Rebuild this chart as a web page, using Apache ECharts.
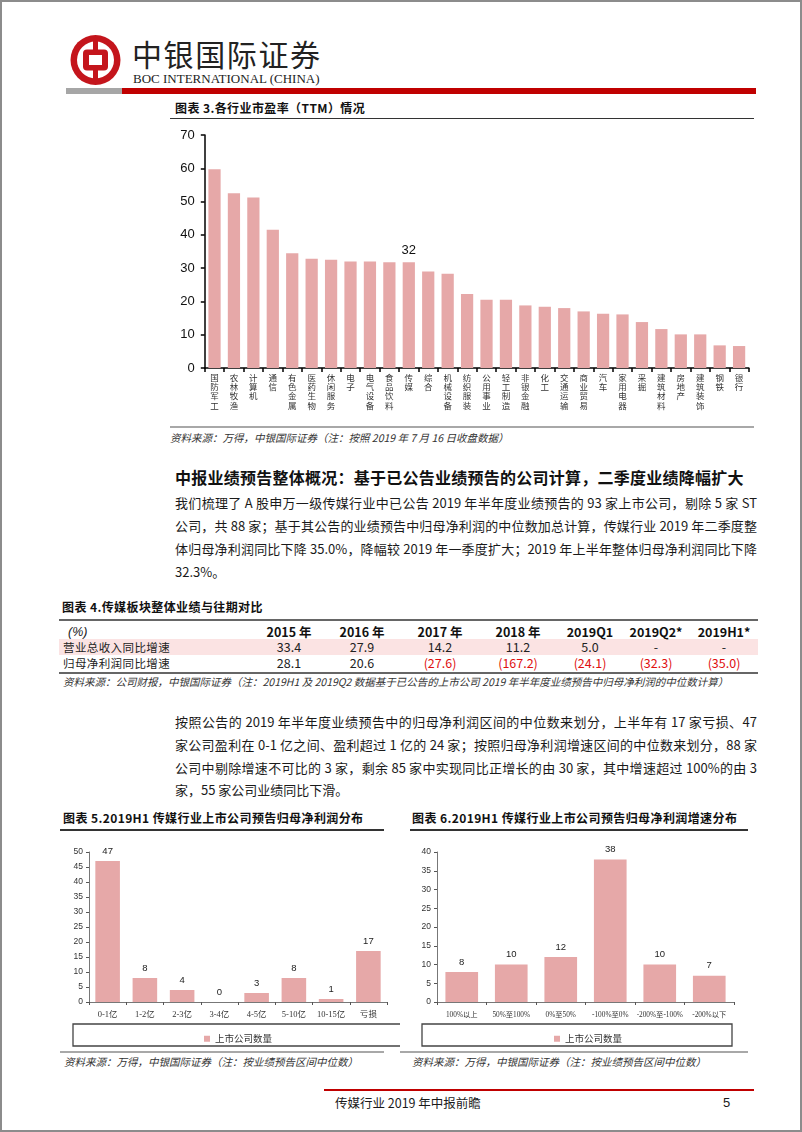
<!DOCTYPE html>
<html><head><meta charset="utf-8">
<script src="https://cdn.jsdelivr.net/npm/echarts@6/dist/echarts.min.js"></script>
<style>
html,body{margin:0;padding:0;background:#fff;}
#page{position:relative;width:802px;height:1132px;overflow:hidden;font-family:"Noto Sans CJK SC",sans-serif;color:#1a1a1a;}
#frame{position:absolute;left:0;top:0;width:798px;height:1128px;border:2px solid #8c8c8c;}
.a{position:absolute;white-space:nowrap;}
.ttl{font-size:12px;font-weight:700;line-height:16px;color:#111;letter-spacing:0.4px;}
.src{font-size:10.5px;font-style:italic;line-height:14px;color:#333;font-family:"Liberation Sans Narrow","Noto Sans CJK SC",sans-serif;}
.para{font-size:13px;line-height:18px;color:#1a1a1a;font-family:"Liberation Sans Narrow","Noto Sans CJK SC",sans-serif;width:582px;text-align:justify;text-align-last:justify;}
.line{position:absolute;}
.cell{position:absolute;width:70px;margin-left:-35px;text-align:center;font-size:12.5px;line-height:16px;font-family:"Liberation Sans Narrow","Noto Sans CJK SC",sans-serif;}
</style>
</head><body>
<div id="page">
<div id="frame"></div>

<!-- header -->
<svg class="a" style="left:68px;top:33px" width="56" height="56" viewBox="68 33 56 56">
  <circle cx="95.5" cy="60" r="25" fill="#c4151c"/>
  <circle cx="95.5" cy="60" r="18.5" fill="#fff"/>
  <rect x="93" y="38" width="5" height="44" fill="#c4151c"/>
  <rect x="83" y="49.5" width="25" height="21" rx="4" fill="#c4151c"/>
  <rect x="89" y="55" width="13" height="10" fill="#fff"/>
</svg>
<div class="a" style="left:132px;top:35px;font-size:30px;line-height:36px;letter-spacing:1.6px;color:#222;">中银国际证券</div>
<div class="a" style="left:133px;top:71px;font-size:13px;line-height:16px;font-family:'Liberation Serif',serif;color:#222;">BOC INTERNATIONAL (CHINA)</div>
<div class="line" style="left:66px;top:88px;width:56px;height:6px;background:#a6a6a6;"></div>
<div class="line" style="left:122px;top:88px;width:634px;height:6px;background:#c00000;"></div>

<!-- chart 3 -->
<div class="a ttl" style="left:175px;top:100px;">图表 3.各行业市盈率（TTM）情况</div>
<div class="line" style="left:170px;top:118px;width:584px;height:1px;background:#333;"></div>
<div id="c3" class="a" style="left:160px;top:120px;width:620px;height:305px;"></div>
<div class="line" style="left:170px;top:426px;width:584px;height:2px;background:#a8a8a8;"></div>
<div class="a src" style="left:170px;top:431px;">资料来源：万得，中银国际证券（注：按照 2019 年 7 月 16 日收盘数据）</div>

<!-- section 1 -->
<div class="a" style="left:175px;top:467px;font-size:16px;font-weight:700;line-height:20px;letter-spacing:0.25px;color:#111;">中报业绩预告整体概况：基于已公告业绩预告的公司计算，二季度业绩降幅扩大</div>
<div class="a para" style="left:175px;top:494px;">我们梳理了 A 股申万一级传媒行业中已公告 2019 年半年度业绩预告的 93 家上市公司，剔除 5 家 ST</div>
<div class="a para" style="left:175px;top:517px;">公司，共 88 家；基于其公告的业绩预告中归母净利润的中位数加总计算，传媒行业 2019 年二季度整</div>
<div class="a para" style="left:175px;top:540px;">体归母净利润同比下降 35.0%，降幅较 2019 年一季度扩大；2019 年上半年整体归母净利润同比下降</div>
<div class="a para" style="left:175px;top:563px;text-align-last:left;">32.3%。</div>

<!-- table 4 -->
<div class="a ttl" style="left:62px;top:599px;">图表 4.传媒板块整体业绩与往期对比</div>
<div class="line" style="left:59px;top:619px;width:699px;height:1.5px;background:#666;"></div>
<div class="line" style="left:59px;top:639px;width:699px;height:16px;background:#fbe3e3;"></div>
<div class="line" style="left:59px;top:672px;width:699px;height:1.5px;background:#666;"></div>
<div id="tbl"></div>
<div class="a src" style="left:63px;top:675px;">资料来源：公司财报，中银国际证券（注：2019H1 及 2019Q2 数据基于已公告的上市公司 2019 年半年度业绩预告中归母净利润的中位数计算）</div>

<!-- section 2 -->
<div class="a para" style="left:175px;top:713px;">按照公告的 2019 年半年度业绩预告中的归母净利润区间的中位数来划分，上半年有 17 家亏损、47</div>
<div class="a para" style="left:175px;top:736px;">家公司盈利在 0-1 亿之间、盈利超过 1 亿的 24 家；按照归母净利润增速区间的中位数来划分，88 家</div>
<div class="a para" style="left:175px;top:759px;">公司中剔除增速不可比的 3 家，剩余 85 家中实现同比正增长的由 30 家，其中增速超过 100%的由 3</div>
<div class="a para" style="left:175px;top:781px;text-align-last:left;">家，55 家公司业绩同比下滑。</div>

<!-- chart 5 -->
<div class="a ttl" style="left:63px;top:810px;">图表 5.2019H1 传媒行业上市公司预告归母净利润分布</div>
<div class="line" style="left:60px;top:829px;width:324px;height:1.5px;background:#333;"></div>
<div id="c5" class="a" style="left:40px;top:835px;width:360px;height:215px;"></div>
<div class="line" style="left:60px;top:1051px;width:324px;height:1.5px;background:#a8a8a8;"></div>
<div class="a src" style="left:64px;top:1055px;">资料来源：万得，中银国际证券（注：按业绩预告区间中位数）</div>

<!-- chart 6 -->
<div class="a ttl" style="left:412px;top:810px;">图表 6.2019H1 传媒行业上市公司预告归母净利润增速分布</div>
<div class="line" style="left:410px;top:829px;width:338px;height:1.5px;background:#333;"></div>
<div id="c6" class="a" style="left:400px;top:835px;width:360px;height:215px;"></div>
<div class="line" style="left:400px;top:1051px;width:348px;height:1.5px;background:#a8a8a8;"></div>
<div class="a src" style="left:412px;top:1055px;">资料来源：万得，中银国际证券（注：按业绩预告区间中位数）</div>

<!-- footer -->
<div class="line" style="left:324px;top:1089px;width:430px;height:2px;background:#c00000;"></div>
<div class="a" style="left:335px;top:1094px;font-size:12.5px;line-height:18px;font-family:'Liberation Sans Narrow','Noto Sans CJK SC',sans-serif;">传媒行业 2019 年中报前瞻</div>
<div class="a" style="left:723px;top:1094px;font-size:13px;line-height:18px;font-family:'Liberation Sans','Noto Sans CJK SC',sans-serif;">5</div>
</div>

<script>
// ---------- data ----------
const peCategories = ['国防军工','农林牧渔','计算机','通信','有色金属','医药生物','休闲服务','电子','电气设备','食品饮料','传媒','综合','机械设备','纺织服装','公用事业','轻工制造','非银金融','化工','交通运输','商业贸易','汽车','家用电器','采掘','建筑材料','房地产','建筑装饰','钢铁','银行'];
const peValues = [59.7,52.5,51.2,41.5,34.5,32.8,32.5,32.0,32.0,31.8,31.8,29.0,28.3,22.2,20.5,20.5,18.8,18.4,18.0,17.0,16.3,16.1,13.8,11.7,10.1,10.1,6.8,6.6];
const peHighlight = '传媒';

const tableHeader = ['2015 年','2016 年','2017 年','2018 年','2019Q1','2019Q2*','2019H1*'];
const tableRowNames = ['营业总收入同比增速','归母净利润同比增速'];
const revenueGrowth = ['33.4','27.9','14.2','11.2','5.0','-','-'];
const profitGrowth = ['28.1','20.6','(27.6)','(167.2)','(24.1)','(32.3)','(35.0)'];

const profitBins = ['0-1亿','1-2亿','2-3亿','3-4亿','4-5亿','5-10亿','10-15亿','亏损'];
const profitCounts = [47,8,4,0,3,8,1,17];
const growthBins = ['100%以上','50%至100%','0%至50%','-100%至0%','-200%至-100%','-200%以下'];
const growthCounts = [8,10,12,38,10,7];
const seriesName = '上市公司数量';

// ---------- table ----------
(function(){
  const colX = [289,362,440,518,590,656,724];
  const rowsY = [632,647,663];
  const page = document.getElementById('page');
  function add(html, style){ const d=document.createElement('div'); d.innerHTML=html; d.setAttribute('style',style); page.appendChild(d); return d; }
  add('(%)', 'position:absolute;left:68px;top:'+(rowsY[0]-8)+'px;font-size:12.5px;line-height:16px;font-style:italic;color:#222;font-family:"Liberation Sans","Noto Sans CJK SC",sans-serif;');
  tableHeader.forEach((h,i)=>{ const d=add(h,'top:'+(rowsY[0]-8)+'px;left:'+colX[i]+'px;font-weight:700;color:#111;'); d.className='cell'; });
  tableRowNames.forEach((n,r)=>{ add(n,'position:absolute;left:63px;top:'+(rowsY[r+1]-9)+'px;font-size:11.5px;line-height:18px;letter-spacing:0.4px;color:#222;'); });
  [revenueGrowth, profitGrowth].forEach((row,r)=>{
    row.forEach((v,i)=>{
      const neg = v.startsWith('(');
      const d=add(v,'top:'+(rowsY[r+1]-8)+'px;left:'+colX[i]+'px;color:'+(neg?'#e01010':'#222')+';');
      d.className='cell';
    });
  });
})();

// ---------- chart 3 ----------
const BAR = '#e6a8a8';
const c3 = echarts.init(document.getElementById('c3'), null, {renderer:'canvas'});
c3.setOption({
  animation:false,
  grid:{left:44.8, top:15, width:544, height:233},
  xAxis:{type:'category', data:peCategories,
    axisLine:{lineStyle:{color:'#000', width:1.5}},
    axisTick:{show:true, length:4, lineStyle:{color:'#000', width:1.5}},
    axisLabel:{interval:0, margin:5, fontSize:8.5, lineHeight:9.3, color:'#333',
      fontFamily:'Noto Sans CJK SC', formatter:v=>v.split('').join('\n')}},
  yAxis:{type:'value', min:0, max:70, interval:10,
    splitLine:{show:false},
    axisLine:{show:true, lineStyle:{color:'#000', width:1.5}},
    axisTick:{show:true, length:4, lineStyle:{color:'#000', width:1.5}},
    axisLabel:{fontSize:13, color:'#111', margin:10, fontFamily:'Liberation Sans, Arial, sans-serif'}},
  series:[{type:'bar', barCategoryGap:'37%', itemStyle:{color:BAR},
    data:peValues.map((v,i)=> peCategories[i]===peHighlight ?
      {value:v, label:{show:true, position:'top', distance:5, fontSize:13, color:'#111', fontFamily:'Liberation Sans, Arial, sans-serif', formatter:p=>Math.round(p.value)}} : v)}]
});

// ---------- charts 5 & 6 ----------
function smallChart(el, cats, vals, gridLeft, gridW, max, legendLeft, boxX, boxW, xFont){
  const ch = echarts.init(document.getElementById(el), null, {renderer:'canvas'});
  ch.setOption({
    animation:false,
    grid:{left:gridLeft, top:17, width:gridW, height:150},
    legend:{data:[seriesName], left:legendLeft, top:194, itemWidth:6, itemHeight:6, icon:'rect', itemGap:4,
      textStyle:{fontSize:9.5, color:'#333', fontFamily:'Noto Sans CJK SC'}},
    graphic:[{type:'rect', shape:{x:boxX, y:189, width:boxW, height:22}, style:{fill:'none', stroke:'#444', lineWidth:1.3}}],
    xAxis:{type:'category', data:cats,
      axisLine:{lineStyle:{color:'#777', width:1}},
      axisTick:{show:true, length:3, lineStyle:{color:'#555'}},
      axisLabel:{interval:0, margin:9, fontSize:xFont, color:'#333', fontFamily:'Liberation Serif, Noto Sans CJK SC, serif'}},
    yAxis:{type:'value', min:0, max:max, interval:5, splitLine:{show:false},
      axisLine:{show:true, lineStyle:{color:'#777', width:1}},
      axisTick:{show:true, length:3, lineStyle:{color:'#555'}},
      axisLabel:{fontSize:8.5, color:'#333', margin:6, fontFamily:'Liberation Sans Narrow, Liberation Sans, sans-serif'}},
    series:[{name:seriesName, type:'bar', barCategoryGap:'34%', itemStyle:{color:BAR}, data:vals,
      label:{show:true, position:'top', distance:5, fontSize:9.5, color:'#222', fontFamily:'Liberation Sans Narrow, Liberation Sans, sans-serif'}}]
  });
}
smallChart('c5', profitBins, profitCounts, 49, 298, 50, 159, 33, 351, 8.5);
smallChart('c6', growthBins, growthCounts, 37, 297, 40, 149, 22, 310, 7.3);
</script>
</body></html>
